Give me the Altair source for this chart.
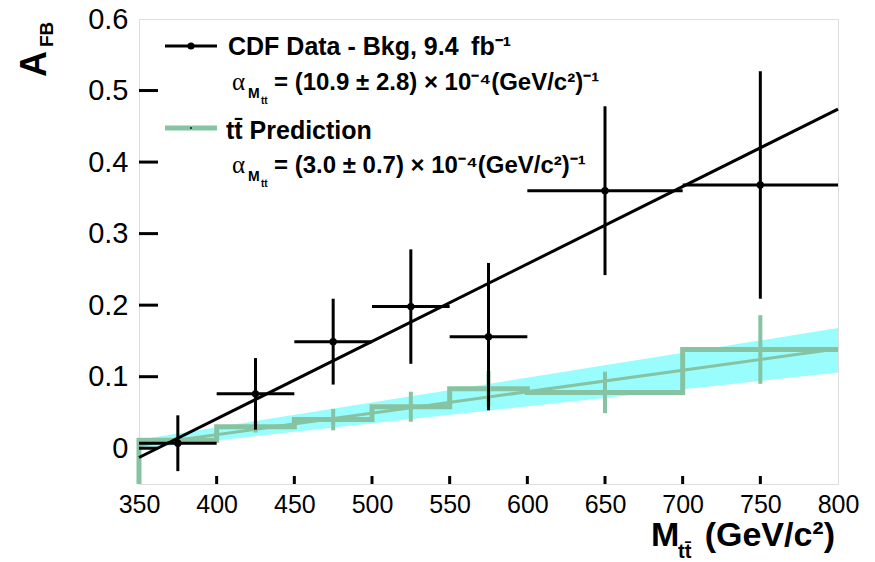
import altair as alt
import pandas as pd

# ---- data ----
bin_lo = [350, 400, 450, 500, 550, 600, 700]
bin_hi = [400, 450, 500, 550, 600, 700, 800]
bin_ctr = [375, 425, 475, 525, 575, 650, 750]

data_afb = [0.007, 0.076, 0.149, 0.198, 0.156, 0.360, 0.368]
data_err = [0.039, 0.050, 0.060, 0.080, 0.103, 0.118, 0.159]

pred_afb = [0.011, 0.030, 0.040, 0.058, 0.083, 0.078, 0.138]
pred_err = [0.005, 0.008, 0.015, 0.021, 0.025, 0.029, 0.048]

fit_x = [350, 800]
data_fit_y = [-0.013, 0.474]
pred_fit_y = [0.004, 0.139]
band_lo = [-0.001, 0.106]
band_hi = [0.012, 0.168]

x_ticks = [350, 400, 450, 500, 550, 600, 650, 700, 750, 800]
y_ticks = [0, 0.1, 0.2, 0.3, 0.4, 0.5, 0.6]
x_domain = [350, 800]
y_domain = [-0.05, 0.6]

GREEN = "#86c3a3"
CYAN = "#99fdfd"
FONT = "Liberation Sans"

W, H = 699, 465

xs = alt.Scale(domain=x_domain, nice=False, zero=False)
ys = alt.Scale(domain=y_domain, nice=False, zero=False)

df_data = pd.DataFrame({"x": bin_ctr, "lo": bin_lo, "hi": bin_hi, "y": data_afb,
                        "ylo": [a - e for a, e in zip(data_afb, data_err)],
                        "yhi": [a + e for a, e in zip(data_afb, data_err)]})
df_pred_err = pd.DataFrame({"x": bin_ctr, "ylo": [a - e for a, e in zip(pred_afb, pred_err)],
                            "yhi": [a + e for a, e in zip(pred_afb, pred_err)]})
step_x = [bin_lo[0]] + bin_lo + [bin_hi[-1]]
step_y = [y_domain[0]] + pred_afb + [pred_afb[-1]]
df_step = pd.DataFrame({"x": step_x, "y": step_y, "o": list(range(len(step_x)))})
df_fit = pd.DataFrame({"x": fit_x, "d": data_fit_y, "p": pred_fit_y, "lo": band_lo, "hi": band_hi})

base_x = alt.X("x:Q", scale=xs,
               axis=alt.Axis(values=x_ticks, title=None, grid=False, domain=False, ticks=False,
                             labelFontSize=25, labelFont=FONT, labelColor="black", labelPadding=8,
                             labelFlush=False))
base_y_axis = alt.Axis(values=y_ticks, title=None, grid=False, domain=False, ticks=False,
                       format=".1~f", labelFontSize=29, labelFont=FONT, labelColor="black",
                       labelPadding=11)

band = alt.Chart(df_fit).mark_area(color=CYAN, opacity=1).encode(
    x=base_x, y=alt.Y("lo:Q", scale=ys, axis=base_y_axis), y2="hi:Q")

step = alt.Chart(df_step).mark_line(color=GREEN, strokeWidth=5, interpolate="step-after").encode(
    x=alt.X("x:Q", scale=xs), y=alt.Y("y:Q", scale=ys), order="o:Q")

pred_fit = alt.Chart(df_fit).mark_line(color=GREEN, strokeWidth=3).encode(
    x=alt.X("x:Q", scale=xs), y=alt.Y("p:Q", scale=ys))

pred_errbar = alt.Chart(df_pred_err).mark_rule(color=GREEN, strokeWidth=4).encode(
    x=alt.X("x:Q", scale=xs), y=alt.Y("ylo:Q", scale=ys), y2="yhi:Q")

data_fit = alt.Chart(df_fit).mark_line(color="black", strokeWidth=3).encode(
    x=alt.X("x:Q", scale=xs), y=alt.Y("d:Q", scale=ys))

data_xerr = alt.Chart(df_data).mark_rule(color="black", strokeWidth=3).encode(
    x=alt.X("lo:Q", scale=xs), x2="hi:Q", y=alt.Y("y:Q", scale=ys))
data_yerr = alt.Chart(df_data).mark_rule(color="black", strokeWidth=3).encode(
    x=alt.X("x:Q", scale=xs), y=alt.Y("ylo:Q", scale=ys), y2="yhi:Q")
data_pts = alt.Chart(df_data).mark_point(filled=True, color="black", size=55, opacity=1).encode(
    x=alt.X("x:Q", scale=xs), y=alt.Y("y:Q", scale=ys))

# inward ticks
df_yt = pd.DataFrame({"v": y_ticks[:-1]})
df_xt = pd.DataFrame({"v": x_ticks[1:-1]})
ytick = alt.Chart(df_yt).mark_rule(color="black", strokeWidth=3).encode(
    y=alt.Y("v:Q", scale=ys), x=alt.value(0), x2=alt.value(19))
xtick = alt.Chart(df_xt).mark_rule(color="black", strokeWidth=3).encode(
    x=alt.X("v:Q", scale=xs), y=alt.value(H), y2=alt.value(H - 8))

OX, OY = 139, 19  # plot origin in page pixels


def txt(s, x, y, size, bold=True, font=FONT, align="left", angle=0):
    kw = dict(fontSize=size, font=font, fontWeight="bold" if bold else "normal",
              align=align, baseline="alphabetic", color="black")
    if angle:
        kw["angle"] = angle
    return alt.Chart(pd.DataFrame({"t": [s]})).mark_text(**kw).encode(
        text="t:N", x=alt.value(x - OX), y=alt.value(y - OY))


def seg(x1, x2, y, color, width):
    return alt.Chart(pd.DataFrame({"a": [0]})).mark_rule(color=color, strokeWidth=width).encode(
        x=alt.value(x1 - OX), x2=alt.value(x2 - OX), y=alt.value(y - OY))


def dot(x, y, size, shape="circle"):
    return alt.Chart(pd.DataFrame({"a": [0]})).mark_point(
        filled=True, color="black", size=size, opacity=1, shape=shape).encode(
        x=alt.value(x - OX), y=alt.value(y - OY))


legend = [
    seg(165, 217, 46, "black", 3), dot(191, 46, 50),
    txt("CDF Data - Bkg, 9.4\u2002fb\u207b\u00b9", 228, 55, 25),
    txt("\u03b1", 232, 90, 25, bold=False, font="Liberation Serif"),
    txt("M", 248, 98, 14),
    txt("tt", 261, 104, 10),
    txt("= (10.9 \u00b1 2.8) \u00d7 10\u207b\u2074(GeV/c\u00b2)\u207b\u00b9", 274, 90, 24),
    seg(165, 217, 128, GREEN, 5), dot(191, 128, 3, "square"),
    txt("tt\u0304 Prediction", 226, 139, 25),
    txt("\u03b1", 232, 173, 25, bold=False, font="Liberation Serif"),
    txt("M", 248, 181, 14),
    txt("tt", 261, 187, 10),
    txt("= (3.0 \u00b1 0.7) \u00d7 10\u207b\u2074(GeV/c\u00b2)\u207b\u00b9", 274, 173, 24),
]

titles = [
    txt("A", 46, 77, 36, angle=270),
    txt("FB", 53, 47, 19, angle=270),
    txt("M", 651, 546, 34),
    txt("tt\u0304", 678, 558, 20),
    txt("(GeV/c\u00b2)", 835, 546, 34, align="right"),
]

chart = alt.layer(
    band, step, pred_fit, pred_errbar, data_fit, data_xerr, data_yerr, data_pts,
    ytick, xtick, *legend, *titles
).properties(
    width=W, height=H,
    autosize=alt.AutoSizeParams(type="none"),
    padding={"left": OX, "top": OY, "right": 875 - OX - W, "bottom": 562 - OY - H},
).configure_view(stroke="black", strokeWidth=3).configure(background="white")

chart.save("out.html", embed_options={"renderer": "svg", "actions": False})
